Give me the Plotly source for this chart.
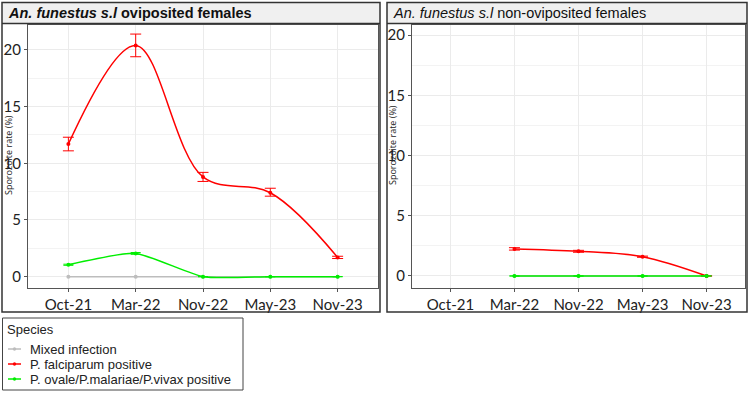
import plotly.graph_objects as go

W, H = 749, 396

categories = ["Oct-21", "Mar-22", "Nov-22", "May-23", "Nov-23"]

# Left panel: oviposited females
ovi_mixed = [0, 0, 0, 0, 0]
ovi_pf = [11.7, 20.4, 8.8, 7.4, 1.7]
ovi_pf_lo = [11.1, 19.4, 8.4, 7.1, 1.6]
ovi_pf_hi = [12.3, 21.4, 9.2, 7.8, 1.8]
ovi_other = [1.05, 2.05, 0, 0, 0]
ovi_other_err = [0.05, 0.08, 0, 0, 0]

# Right panel: non-oviposited females
non_cats = ["Mar-22", "Nov-22", "May-23", "Nov-23"]
non_mixed = [0, 0, 0, 0]
non_pf = [2.25, 2.05, 1.6, 0.0]
non_pf_lo = [2.15, 1.97, 1.55, 0.0]
non_pf_hi = [2.35, 2.13, 1.65, 0.0]
non_other = [0, 0, 0, 0]

names = ["Mixed infection", "P. falciparum positive", "P. ovale/P.malariae/P.vivax positive"]
colors = ["#bdbdbd", "#ff0000", "#00ee00"]

def px(x):
    return x / W

def py(y):
    return 1 - y / H

fig = go.Figure()

def add_panel(xa, ya, cats, mixed, pf, lo, hi, other, other_err):
    idx = [categories.index(c) for c in cats]
    fig.add_trace(go.Scatter(x=idx, y=mixed, mode="lines+markers", name=names[0],
                             line=dict(color=colors[0], width=1.5, shape="spline"),
                             marker=dict(size=4, color=colors[0]),
                             xaxis=xa, yaxis=ya, showlegend=False))
    fig.add_trace(go.Scatter(x=idx, y=pf, mode="lines+markers", name=names[1],
                             line=dict(color=colors[1], width=1.5, shape="spline", smoothing=1.0),
                             marker=dict(size=4, color=colors[1]),
                             error_y=dict(type="data", symmetric=False,
                                          array=[h - v for h, v in zip(hi, pf)],
                                          arrayminus=[v - l for v, l in zip(pf, lo)],
                                          color=colors[1], thickness=1, width=5.5),
                             xaxis=xa, yaxis=ya, showlegend=False))
    fig.add_trace(go.Scatter(x=idx, y=other, mode="lines+markers", name=names[2],
                             line=dict(color=colors[2], width=1.5, shape="spline", smoothing=0.55),
                             marker=dict(size=4, color=colors[2]),
                             error_y=dict(type="data", array=other_err,
                                          color=colors[2], thickness=1, width=5),
                             xaxis=xa, yaxis=ya, showlegend=False))

add_panel("x", "y", categories, ovi_mixed, ovi_pf, ovi_pf_lo, ovi_pf_hi, ovi_other, ovi_other_err)
add_panel("x2", "y2", non_cats, non_mixed, non_pf, non_pf_lo, non_pf_hi, non_other, [0, 0, 0, 0])

tickfont = dict(family="Lato, Open Sans, sans-serif", size=15, color="#222")
common_x = dict(tickmode="array", tickvals=list(range(5)), ticktext=categories,
                range=[-0.6, 4.6], showgrid=True, gridcolor="#ebebeb", gridwidth=1,
                showline=True, linecolor="#555", linewidth=1, mirror=True, automargin=False,
                ticks="outside", ticklen=3, tickcolor="#555", tickfont=tickfont, zeroline=False)
common_y = dict(showgrid=True, gridcolor="#ebebeb", gridwidth=1, tickvals=[0, 5, 10, 15, 20],
                minor=dict(showgrid=True, gridcolor="#f3f3f3", tickvals=[2.5, 7.5, 12.5, 17.5]),
                showline=True, linecolor="#555", linewidth=1, mirror=True, automargin=False,
                ticks="outside", ticklen=3, tickcolor="#555", tickfont=tickfont, zeroline=False)

fig.update_layout(
    width=W, height=H, margin=dict(l=0, r=0, t=0, b=0),
    paper_bgcolor="white", plot_bgcolor="white", showlegend=False,
    xaxis=dict(domain=[px(28), px(378)], anchor="y", **common_x),
    yaxis=dict(domain=[py(288), py(25)], anchor="x", range=[-1.0, 22.2], **common_y),
    xaxis2=dict(domain=[px(412), px(745)], anchor="y2", **common_x),
    yaxis2=dict(domain=[py(288), py(25)], anchor="x2", range=[-1.0, 20.85], **common_y),
)

shapes = []
# panel frames
for x0, x1 in [(2, 380), (387, 747)]:
    shapes.append(dict(type="rect", xref="paper", yref="paper", x0=px(x0), x1=px(x1),
                       y0=py(23), y1=py(2.5), fillcolor="#f0f0f0", line=dict(width=0), layer="below"))
    shapes.append(dict(type="line", xref="paper", yref="paper", x0=px(x0), x1=px(x1),
                       y0=py(23.5), y1=py(23.5), line=dict(color="#333", width=1.5)))
    shapes.append(dict(type="rect", xref="paper", yref="paper", x0=px(x0), x1=px(x1),
                       y0=py(312), y1=py(2.5), line=dict(color="#333", width=1.5)))

# manual legend box
shapes.append(dict(type="rect", xref="paper", yref="paper", x0=px(2.5), x1=px(243),
                   y0=py(390), y1=py(318), line=dict(color="#444", width=1), fillcolor="white"))
legend_y = [349, 364, 379]
ann = []
for yy, nm, col in zip(legend_y, names, colors):
    shapes.append(dict(type="line", xref="paper", yref="paper", x0=px(8), x1=px(21),
                       y0=py(yy), y1=py(yy), line=dict(color=col, width=1.5)))
    shapes.append(dict(type="circle", xref="paper", yref="paper", x0=px(12.8), x1=px(16.2),
                       y0=py(yy + 1.7), y1=py(yy - 1.7), line=dict(color=col, width=0), fillcolor=col))
    ann.append(dict(text=nm, x=px(28), y=py(yy), xanchor="left", yanchor="middle",
                    font=dict(family="Liberation Sans, Arial", size=13, color="#222")))
ann.append(dict(text="Species", x=px(5), y=py(329), xanchor="left", yanchor="middle",
                font=dict(family="Liberation Sans, Arial", size=13, color="#222")))
fig.update_layout(shapes=shapes)

ann += [
    dict(text="<b><i>An. funestus s.l</i> oviposited females</b>", x=px(6), y=py(13),
         xanchor="left", yanchor="middle", font=dict(family="Liberation Sans, Arial", size=14.5, color="#111")),
    dict(text="<i>An. funestus s.l</i> non-oviposited females", x=px(391), y=py(13),
         xanchor="left", yanchor="middle", font=dict(family="Liberation Sans, Arial", size=14.5, color="#111")),
    dict(text="Sporozoite rate (%)", x=px(8), y=py(155), textangle=-90,
         xanchor="center", yanchor="middle", font=dict(family="Open Sans, sans-serif", size=9, color="#222")),
    dict(text="Sporozoite rate (%)", x=px(392), y=py(145), textangle=-90,
         xanchor="center", yanchor="middle", font=dict(family="Open Sans, sans-serif", size=9, color="#222")),
]
for a in ann:
    a.update(xref="paper", yref="paper", showarrow=False)
fig.update_layout(annotations=ann)

fig.write_html("out.html", config={"displayModeBar": False},
               post_script="document.body.style.margin='0px';")
